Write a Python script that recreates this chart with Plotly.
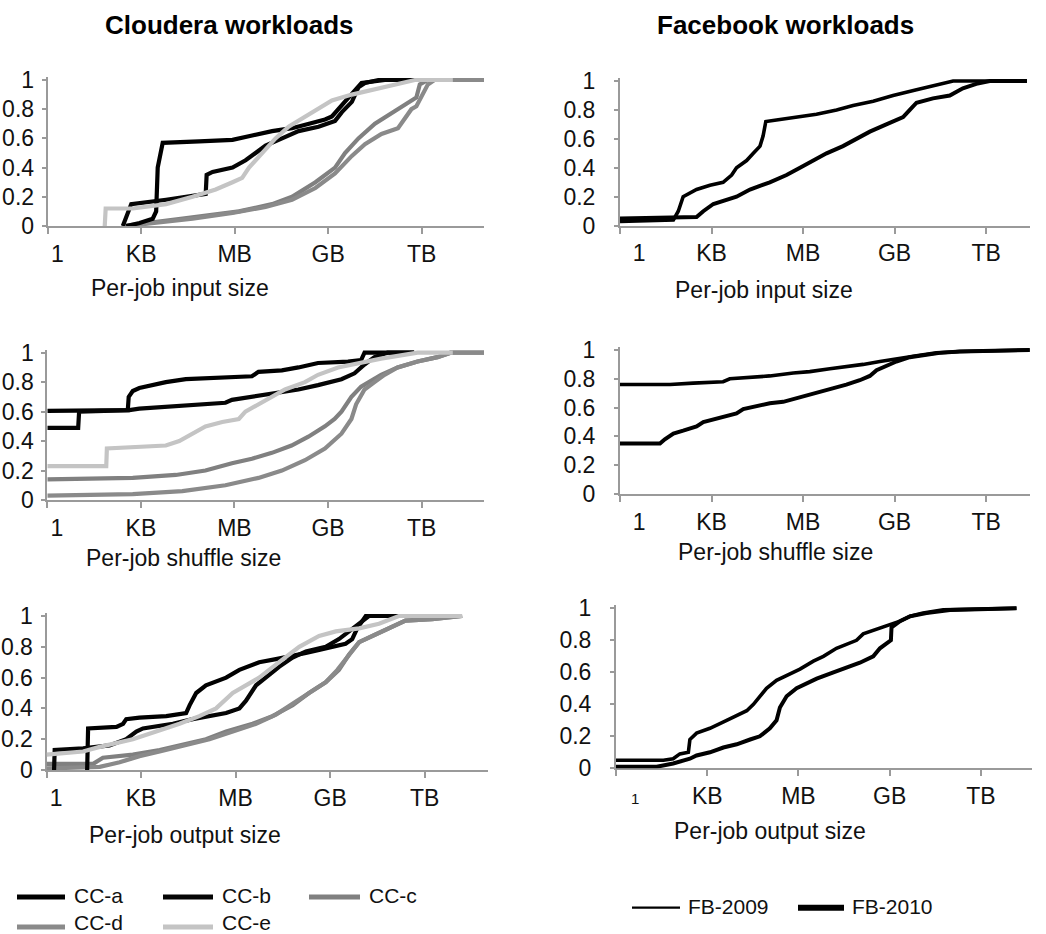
import plotly.graph_objects as go

W, H = 1046, 934

# ---------------- tick / category definitions ----------------
SIZE_TICK_EXPONENTS = [0, 3, 6, 9, 12]          # 1 B, KB, MB, GB, TB
SIZE_TICK_LABELS = ["1", "KB", "MB", "GB", "TB"]
CDF_TICKS = [0, 0.2, 0.4, 0.6, 0.8, 1]
CDF_TICK_LABELS = ["0", "0.2", "0.4", "0.6", "0.8", "1"]

CC_SERIES = ["CC-a", "CC-b", "CC-c", "CC-d", "CC-e"]
FB_SERIES = ["FB-2009", "FB-2010"]
PANEL_TITLES = ["Cloudera workloads", "Facebook workloads"]
X_TITLES = ["Per-job input size", "Per-job shuffle size", "Per-job output size"]

# ---------------- data: log10(bytes) and CDF ----------------
# Cloudera - input size
cc_in_a_exp = [2.52, 2.95, 3.37, 3.48, 3.53, 3.69, 4.86, 5.93, 6.56, 7.20, 7.84, 8.37, 8.90, 9.12, 9.33, 9.54, 9.86, 10.07, 10.82, 12.0]
cc_in_a_cdf = [0, 0.02, 0.05, 0.10, 0.40, 0.57, 0.58, 0.59, 0.62, 0.65, 0.67, 0.70, 0.73, 0.75, 0.80, 0.85, 0.92, 0.98, 1.0, 1.0]
cc_in_b_exp = [2.41, 2.57, 2.68, 3.80, 4.86, 5.07, 5.10, 5.29, 5.93, 6.35, 6.67, 6.99, 7.52, 8.05, 8.69, 9.22, 9.44, 9.76, 9.97, 10.18, 10.61, 12.0]
cc_in_b_cdf = [0, 0.10, 0.15, 0.18, 0.21, 0.22, 0.35, 0.37, 0.40, 0.45, 0.50, 0.55, 0.60, 0.65, 0.68, 0.72, 0.78, 0.85, 0.95, 0.98, 1.0, 1.0]
cc_in_c_exp = [2.41, 3.27, 4.33, 5.39, 6.14, 7.20, 7.84, 8.59, 9.22, 9.54, 9.97, 10.50, 11.24, 11.67, 11.83, 11.94, 12.20, 14.0]
cc_in_c_cdf = [0, 0.02, 0.05, 0.08, 0.10, 0.15, 0.20, 0.30, 0.40, 0.50, 0.60, 0.70, 0.80, 0.86, 0.88, 0.97, 1.0, 1.0]
cc_in_d_exp = [2.52, 3.48, 4.65, 5.93, 6.99, 7.84, 8.59, 9.22, 9.76, 10.18, 10.71, 11.24, 11.51, 11.67, 11.83, 12.04, 12.20, 12.41, 14.0]
cc_in_d_cdf = [0, 0.02, 0.05, 0.09, 0.13, 0.18, 0.26, 0.36, 0.48, 0.56, 0.63, 0.67, 0.75, 0.80, 0.82, 0.90, 0.97, 1.0, 1.0]
cc_in_e_exp = [1.83, 1.86, 2.73, 3.80, 4.65, 5.39, 5.93, 6.24, 6.46, 6.88, 7.31, 7.73, 8.27, 8.69, 9.12, 9.76, 10.71, 11.78, 13.0]
cc_in_e_cdf = [0, 0.12, 0.12, 0.15, 0.20, 0.25, 0.30, 0.33, 0.40, 0.50, 0.60, 0.68, 0.75, 0.80, 0.86, 0.90, 0.95, 1.0, 1.0]

# Cloudera - shuffle size
cc_sh_a_exp = [0, 2.58, 2.61, 2.74, 2.95, 3.80, 4.44, 5.71, 6.56, 6.77, 7.52, 8.05, 8.68, 9.64, 10.06, 10.17, 11.76]
cc_sh_a_cdf = [0.605, 0.61, 0.70, 0.74, 0.76, 0.80, 0.82, 0.83, 0.84, 0.87, 0.88, 0.90, 0.93, 0.94, 0.95, 1.0, 1.0]
cc_sh_b_exp = [0, 0.99, 1.02, 2.63, 2.95, 4.33, 5.71, 5.92, 6.56, 7.30, 8.05, 8.68, 9.43, 9.85, 10.17, 10.49, 10.91, 11.76]
cc_sh_b_cdf = [0.49, 0.49, 0.60, 0.61, 0.62, 0.64, 0.66, 0.68, 0.70, 0.73, 0.75, 0.78, 0.82, 0.86, 0.92, 0.97, 1.0, 1.0]
cc_sh_c_exp = [0, 2.74, 4.12, 5.07, 5.92, 6.56, 7.20, 7.83, 8.37, 8.90, 9.21, 9.43, 9.75, 10.06, 10.70, 11.23, 11.87, 12.51, 12.93, 14.0]
cc_sh_c_cdf = [0.14, 0.15, 0.17, 0.20, 0.25, 0.28, 0.32, 0.37, 0.43, 0.50, 0.55, 0.60, 0.70, 0.77, 0.85, 0.90, 0.94, 0.97, 1.0, 1.0]
cc_sh_d_exp = [0, 2.74, 4.33, 5.71, 6.77, 7.52, 8.26, 8.90, 9.43, 9.75, 9.90, 10.17, 10.49, 10.81, 11.23, 11.87, 12.51, 12.93, 14.0]
cc_sh_d_cdf = [0.03, 0.04, 0.06, 0.10, 0.15, 0.20, 0.27, 0.35, 0.45, 0.55, 0.65, 0.75, 0.80, 0.85, 0.90, 0.94, 0.97, 1.0, 1.0]
cc_sh_e_exp = [0, 1.89, 1.91, 3.16, 3.80, 4.23, 4.65, 5.07, 5.61, 6.14, 6.35, 6.77, 7.20, 7.62, 8.26, 8.68, 9.32, 9.96, 10.70, 11.87, 13.0]
cc_sh_e_cdf = [0.23, 0.23, 0.35, 0.36, 0.37, 0.40, 0.45, 0.50, 0.53, 0.55, 0.60, 0.65, 0.70, 0.75, 0.80, 0.85, 0.90, 0.93, 0.96, 1.0, 1.0]

# Cloudera - output size
cc_out_a_exp = [1.29, 1.32, 2.22, 2.43, 2.53, 2.95, 3.80, 4.43, 4.54, 4.75, 5.06, 5.70, 6.12, 6.75, 7.28, 7.81, 8.23, 8.65, 9.07, 9.49, 9.70, 9.86, 10.13, 11.5]
cc_out_a_cdf = [0, 0.27, 0.28, 0.30, 0.33, 0.34, 0.35, 0.37, 0.42, 0.50, 0.55, 0.60, 0.65, 0.70, 0.72, 0.74, 0.76, 0.78, 0.80, 0.82, 0.85, 0.92, 1.0, 1.0]
cc_out_b_exp = [0.24, 0.26, 1.16, 1.69, 2.00, 2.53, 2.85, 3.06, 4.01, 4.64, 5.27, 5.70, 6.12, 6.33, 6.65, 6.96, 7.38, 7.81, 8.23, 8.86, 9.28, 9.60, 9.92, 10.23, 11.5]
cc_out_b_cdf = [0, 0.13, 0.14, 0.15, 0.16, 0.20, 0.25, 0.27, 0.30, 0.33, 0.35, 0.37, 0.40, 0.45, 0.55, 0.60, 0.67, 0.73, 0.77, 0.80, 0.85, 0.90, 0.95, 1.0, 1.0]
cc_out_c_exp = [0, 1.48, 1.79, 2.74, 3.59, 4.43, 5.06, 5.70, 6.54, 7.17, 7.81, 8.33, 8.86, 9.28, 9.60, 9.92, 10.44, 10.97, 11.39, 12.24, 13.19]
cc_out_c_cdf = [0.04, 0.04, 0.08, 0.10, 0.13, 0.17, 0.20, 0.25, 0.30, 0.35, 0.42, 0.50, 0.57, 0.65, 0.75, 0.83, 0.88, 0.93, 0.97, 0.98, 1.0]
cc_out_d_exp = [0, 1.69, 2.32, 2.95, 3.59, 4.43, 5.17, 5.91, 6.65, 7.28, 7.81, 8.33, 8.86, 9.23, 9.60, 9.92, 10.44, 10.97, 11.39, 12.24, 13.19]
cc_out_d_cdf = [0.01, 0.02, 0.05, 0.09, 0.12, 0.16, 0.20, 0.25, 0.30, 0.36, 0.43, 0.50, 0.57, 0.65, 0.75, 0.83, 0.88, 0.93, 0.97, 0.98, 1.0]
cc_out_e_exp = [0, 1.16, 1.69, 2.74, 3.48, 4.22, 4.85, 5.38, 5.91, 6.33, 6.75, 7.38, 8.02, 8.65, 9.18, 9.92, 10.55, 11.18, 13.19]
cc_out_e_cdf = [0.10, 0.12, 0.15, 0.20, 0.25, 0.30, 0.35, 0.40, 0.50, 0.55, 0.60, 0.70, 0.80, 0.87, 0.90, 0.92, 0.95, 1.0, 1.0]

# Facebook - input size
fb_in_2009_exp = [0, 1.75, 1.91, 2.07, 2.51, 2.95, 3.38, 3.66, 3.82, 4.15, 4.37, 4.59, 4.69, 4.78, 5.13, 5.79, 6.44, 7.10, 7.64, 8.30, 8.95, 9.72, 10.37, 10.92, 13.34]
fb_in_2009_cdf = [0.03, 0.04, 0.10, 0.20, 0.25, 0.28, 0.30, 0.35, 0.40, 0.45, 0.50, 0.55, 0.62, 0.72, 0.73, 0.75, 0.77, 0.80, 0.83, 0.86, 0.90, 0.94, 0.97, 1.0, 1.0]
fb_in_2010_exp = [0, 2.51, 2.73, 3.06, 3.82, 4.26, 4.91, 5.46, 5.90, 6.33, 6.77, 7.31, 7.75, 8.19, 8.73, 9.28, 9.50, 9.72, 10.26, 10.81, 11.24, 11.68, 12.12, 13.34]
fb_in_2010_cdf = [0.05, 0.06, 0.10, 0.15, 0.20, 0.25, 0.30, 0.35, 0.40, 0.45, 0.50, 0.55, 0.60, 0.65, 0.70, 0.75, 0.80, 0.85, 0.88, 0.90, 0.95, 0.98, 1.0, 1.0]

# Facebook - shuffle size
fb_sh_2009_exp = [0, 1.64, 2.40, 3.38, 3.60, 4.26, 4.91, 5.68, 6.22, 6.88, 7.31, 7.97, 8.52, 9.06, 9.72, 10.37, 11.14, 13.43]
fb_sh_2009_cdf = [0.76, 0.76, 0.77, 0.78, 0.80, 0.81, 0.82, 0.84, 0.85, 0.87, 0.88, 0.90, 0.92, 0.94, 0.96, 0.98, 0.99, 1.0]
fb_sh_2010_exp = [0, 1.31, 1.47, 1.75, 2.07, 2.51, 2.73, 3.06, 3.38, 3.82, 4.04, 4.48, 4.91, 5.35, 5.90, 6.44, 6.99, 7.42, 7.86, 8.19, 8.41, 8.73, 9.06, 9.50, 10.04, 10.48, 11.14, 13.43]
fb_sh_2010_cdf = [0.35, 0.35, 0.38, 0.42, 0.44, 0.47, 0.50, 0.52, 0.54, 0.56, 0.59, 0.61, 0.63, 0.64, 0.67, 0.70, 0.73, 0.76, 0.79, 0.82, 0.86, 0.89, 0.92, 0.95, 0.97, 0.98, 0.99, 1.0]

# Facebook - output size
fb_out_2009_exp = [0, 1.56, 1.88, 2.10, 2.38, 2.43, 2.65, 3.09, 3.64, 3.97, 4.30, 4.52, 4.73, 4.95, 5.28, 5.61, 6.05, 6.49, 6.82, 7.25, 7.69, 7.91, 8.13, 8.57, 9.01, 9.34, 9.67, 10.10, 10.76, 13.17]
fb_out_2009_cdf = [0.05, 0.05, 0.06, 0.09, 0.10, 0.18, 0.22, 0.25, 0.30, 0.33, 0.36, 0.40, 0.45, 0.50, 0.55, 0.58, 0.62, 0.67, 0.70, 0.75, 0.78, 0.80, 0.84, 0.87, 0.90, 0.92, 0.95, 0.97, 0.99, 1.0]
fb_out_2010_exp = [0, 1.34, 1.88, 2.43, 2.65, 3.09, 3.53, 3.97, 4.41, 4.73, 5.06, 5.28, 5.39, 5.61, 5.94, 6.27, 6.60, 7.15, 7.58, 8.02, 8.46, 8.68, 8.90, 9.04, 9.06, 9.34, 9.67, 10.21, 10.98, 13.17]
fb_out_2010_cdf = [0.01, 0.01, 0.03, 0.06, 0.08, 0.10, 0.13, 0.15, 0.18, 0.20, 0.25, 0.30, 0.38, 0.45, 0.50, 0.53, 0.56, 0.60, 0.63, 0.66, 0.70, 0.75, 0.78, 0.80, 0.88, 0.92, 0.95, 0.97, 0.99, 1.0]

CC_DATA = [
    {"CC-a": (cc_in_a_exp, cc_in_a_cdf), "CC-b": (cc_in_b_exp, cc_in_b_cdf), "CC-c": (cc_in_c_exp, cc_in_c_cdf),
     "CC-d": (cc_in_d_exp, cc_in_d_cdf), "CC-e": (cc_in_e_exp, cc_in_e_cdf)},
    {"CC-a": (cc_sh_a_exp, cc_sh_a_cdf), "CC-b": (cc_sh_b_exp, cc_sh_b_cdf), "CC-c": (cc_sh_c_exp, cc_sh_c_cdf),
     "CC-d": (cc_sh_d_exp, cc_sh_d_cdf), "CC-e": (cc_sh_e_exp, cc_sh_e_cdf)},
    {"CC-a": (cc_out_a_exp, cc_out_a_cdf), "CC-b": (cc_out_b_exp, cc_out_b_cdf), "CC-c": (cc_out_c_exp, cc_out_c_cdf),
     "CC-d": (cc_out_d_exp, cc_out_d_cdf), "CC-e": (cc_out_e_exp, cc_out_e_cdf)},
]
FB_DATA = [
    {"FB-2009": (fb_in_2009_exp, fb_in_2009_cdf), "FB-2010": (fb_in_2010_exp, fb_in_2010_cdf)},
    {"FB-2009": (fb_sh_2009_exp, fb_sh_2009_cdf), "FB-2010": (fb_sh_2010_exp, fb_sh_2010_cdf)},
    {"FB-2009": (fb_out_2009_exp, fb_out_2009_cdf), "FB-2010": (fb_out_2010_exp, fb_out_2010_cdf)},
]

# ---------------- styles ----------------
FONT = "Arial, Liberation Sans, sans-serif"
FS = 23
LEG_FS = 21
TXT = "#111111"
AXIS_COL = "#9a9a9a"
CC_COLORS = {"CC-a": "#000000", "CC-b": "#050505", "CC-c": "#808080", "CC-d": "#8a8a8a", "CC-e": "#c4c4c4"}
CC_DRAW_ORDER = ["CC-c", "CC-d", "CC-a", "CC-b", "CC-e"]
FB_PLOT_WIDTH = {"FB-2009": 3.6, "FB-2010": 4.0}
FB_LEGEND_WIDTH = {"FB-2009": 2.2, "FB-2010": 6}
YMAX = 1.02

# panel pixel geometry: x of size 1, x end, y of cdf=1, y of cdf=0, log-range max, "1" label shift
PANELS = [
    # left column (Cloudera)
    dict(col=0, row=0, x0=47.7, x1=484.0, y1=80.0, y0=226.0, xmax=14.0, nb=3, small1=False),
    dict(col=0, row=1, x0=47.3, x1=484.0, y1=352.7, y0=500.0, xmax=14.0, nb=3, small1=False),
    dict(col=0, row=2, x0=46.5, x1=487.7, y1=616.0, y0=770.0, xmax=14.0, nb=3, small1=False),
    # right column (Facebook)
    dict(col=1, row=0, x0=620.0, x1=1030.0, y1=81.0, y0=225.7, xmax=13.44, nb=6, small1=False),
    dict(col=1, row=1, x0=620.0, x1=1030.0, y1=350.0, y0=494.0, xmax=13.44, nb=6, small1=False),
    dict(col=1, row=2, x0=616.0, x1=1032.0, y1=608.3, y0=768.3, xmax=13.68, nb=6, small1=True),
]
X_TITLE_POS = {(0, 0): (180, 288), (0, 1): (183, 558), (0, 2): (185, 835),
               (1, 0): (764, 290), (1, 1): (775, 552), (1, 2): (770, 831)}


def px(x):
    return x / W


def py(y):
    return 1 - y / H


fig = go.Figure()
layout = dict(
    width=W, height=H, autosize=False,
    margin=dict(l=0, r=0, t=0, b=0, pad=0, autoexpand=False),
    paper_bgcolor="white", plot_bgcolor="white", showlegend=False,
    font=dict(family=FONT, size=FS, color=TXT),
)
annotations = []
shapes = []

for i, p in enumerate(PANELS):
    n = "" if i == 0 else str(i + 1)
    xa, ya = "x" + n, "y" + n
    top = p["y1"] - (p["y0"] - p["y1"]) * (YMAX - 1)
    one_label = "\u00a0" * p["nb"] + SIZE_TICK_LABELS[0]
    if p["small1"]:
        one_label = "\u00a0" * p["nb"] + '<span style="font-size:15px">' + SIZE_TICK_LABELS[0] + "</span>"
    ticktext = [one_label] + SIZE_TICK_LABELS[1:]
    layout["xaxis" + n] = dict(
        type="log", range=[0, p["xmax"]], domain=[px(p["x0"]), px(p["x1"])], anchor=ya,
        tickvals=[10 ** e for e in SIZE_TICK_EXPONENTS], ticktext=ticktext,
        ticks="outside", ticklen=6, tickwidth=2, tickcolor=AXIS_COL,
        showline=True, linecolor=AXIS_COL, linewidth=2, showgrid=False, zeroline=False,
        ticklabelstandoff=0, tickfont=dict(size=FS, color=TXT, family=FONT), layer="below traces",
        fixedrange=True, automargin=False,
    )
    layout["yaxis" + n] = dict(
        range=[0, YMAX], domain=[py(p["y0"]), py(top)], anchor=xa,
        tickvals=CDF_TICKS, ticktext=CDF_TICK_LABELS,
        ticks="outside", ticklen=4, tickwidth=2, tickcolor=AXIS_COL,
        showline=True, linecolor=AXIS_COL, linewidth=2, showgrid=False, zeroline=False,
        ticklabelstandoff=3 if p["col"] == 0 else 14,
        tickfont=dict(size=FS, color=TXT, family=FONT), layer="below traces", fixedrange=True,
        automargin=False,
    )
    if p["col"] == 0:
        data = CC_DATA[p["row"]]
        for name in CC_DRAW_ORDER:
            ex, cdf = data[name]
            fig.add_trace(go.Scatter(
                x=[10 ** e for e in ex], y=cdf, mode="lines", name=name, xaxis=xa, yaxis=ya,
                line=dict(color=CC_COLORS[name], width=4.2), showlegend=False,
            ))
    else:
        data = FB_DATA[p["row"]]
        for name in FB_SERIES:
            ex, cdf = data[name]
            fig.add_trace(go.Scatter(
                x=[10 ** e for e in ex], y=cdf, mode="lines", name=name, xaxis=xa, yaxis=ya,
                line=dict(color="#000000", width=FB_PLOT_WIDTH[name]), showlegend=False,
            ))
    tx, ty = X_TITLE_POS[(p["col"], p["row"])]
    annotations.append(dict(
        text=X_TITLES[p["row"]], x=px(tx), y=py(ty), xref="paper", yref="paper",
        xanchor="center", yanchor="middle", showarrow=False, font=dict(size=FS, color=TXT, family=FONT),
    ))

# column titles
for title, (tx, ty) in zip(PANEL_TITLES, [(229, 25), (785.5, 25)]):
    annotations.append(dict(
        text="<b>" + title + "</b>", x=px(tx), y=py(ty), xref="paper", yref="paper",
        xanchor="center", yanchor="middle", showarrow=False, font=dict(size=26, color="#000000", family=FONT),
    ))

# manual legends (line sample, label x, line y, label y)
CC_LEGEND_POS = {"CC-a": (17, 65, 897, 895), "CC-b": (163, 213, 897, 895), "CC-c": (309, 360, 897, 895),
                 "CC-d": (17, 65, 927, 922), "CC-e": (163, 213, 927, 922)}
for name in CC_SERIES:
    xa0, xa1, yy, ty = CC_LEGEND_POS[name]
    shapes.append(dict(type="line", xref="paper", yref="paper", x0=px(xa0), x1=px(xa1), y0=py(yy), y1=py(yy),
                       line=dict(color=CC_COLORS[name], width=5)))
    annotations.append(dict(text=name, x=px(xa1 + 7), y=py(ty), xref="paper", yref="paper",
                            xanchor="left", yanchor="middle", showarrow=False,
                            font=dict(size=LEG_FS, color=TXT, family=FONT)))

FB_LEGEND_POS = {"FB-2009": (632, 680, 907.7, 906), "FB-2010": (798, 844, 907.7, 906)}
for name in FB_SERIES:
    xa0, xa1, yy, ty = FB_LEGEND_POS[name]
    shapes.append(dict(type="line", xref="paper", yref="paper", x0=px(xa0), x1=px(xa1), y0=py(yy), y1=py(yy),
                       line=dict(color="#000000", width=FB_LEGEND_WIDTH[name])))
    annotations.append(dict(text=name, x=px(xa1 + 6), y=py(ty), xref="paper", yref="paper",
                            xanchor="left", yanchor="middle", showarrow=False,
                            font=dict(size=LEG_FS, color=TXT, family=FONT)))

layout["annotations"] = annotations
layout["shapes"] = shapes
fig.update_layout(**layout)
fig.write_html("out.html")
